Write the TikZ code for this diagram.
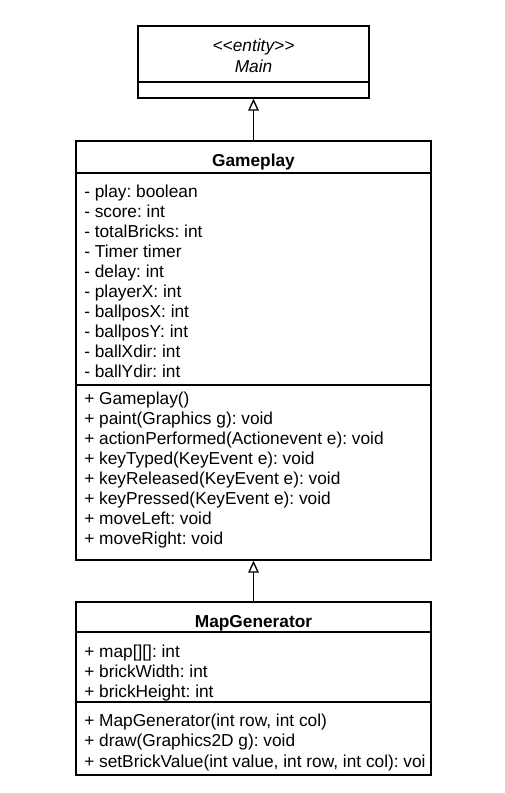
\documentclass[tikz,border=0pt]{standalone}
\usepackage{fontspec}
\setmainfont{Liberation Sans}
\usetikzlibrary{arrows.meta,fit}
\frenchspacing
\begin{document}
\begin{tikzpicture}[x=0.75pt,y=-0.75pt,
  umlbox/.style={draw=black,line width=1pt,inner sep=0pt,fit={#1}},
  sepline/.style={draw=black,line width=1pt},
  member/.style={anchor=base west,inner sep=0pt,font=\fontsize{12.97}{15}\selectfont},
  titletext/.style={anchor=base,inner sep=0pt,font=\fontsize{12.97}{15}\selectfont\bfseries},
  stereo/.style={anchor=base,inner sep=0pt,font=\fontsize{12.97}{15}\selectfont\itshape},
  inherit/.style={draw=black,line width=1pt,-{Triangle[open,width=8pt,length=9pt,line width=1pt]}}]
\useasboundingbox (0,0) rectangle (505,793);
% Main
\node[umlbox={(138,26) (369,98)}] (main) {};
\draw[sepline] (138,82) coordinate (m1) -- (369,82) coordinate (m2);
\node[stereo] (mainst) at (253.5,51.5) {<\kern0pt<entity>\kern0pt>};
\node[stereo] (mainname) at (253.5,72.5) {Main};
% Gameplay
\node[umlbox={(76,141) (431,560)}] (gameplay) {};
\draw[sepline] (76,173) coordinate (g1) -- (431,173) coordinate (g2);
\draw[sepline] (76,385) coordinate (g3) -- (431,385) coordinate (g4);
\node[titletext] (gtitle) at (253.5,166) {Gameplay};
\foreach \t [count=\i from 0] in {- play: boolean,- score: int,- totalBricks: int,- Timer timer,- delay: int,- playerX: int,- ballposX: int,- ballposY: int,- ballXdir: int,- ballYdir: int}
  \node[member] (ga\i) at (84,{197+20*\i}) {\t};
\foreach \t [count=\i from 0] in {+ Gameplay(),+ paint(Graphics g): void,+ actionPerformed(Actionevent e): void,+ keyTyped(KeyEvent e): void,+ keyReleased(KeyEvent e): void,+ keyPressed(KeyEvent e): void,+ moveLeft: void,+ moveRight: void}
  \node[member] (gm\i) at (84,{404+20*\i}) {\t};
% MapGenerator
\node[umlbox={(76,602) (431,775)}] (mapgen) {};
\draw[sepline] (76,632) coordinate (p1) -- (431,632) coordinate (p2);
\draw[sepline] (76,702) coordinate (p3) -- (431,702) coordinate (p4);
\node[titletext] (ptitle) at (253.5,627) {MapGenerator};
\foreach \t [count=\i from 0] in {+ map[][]: int,+ brickWidth: int,+ brickHeight: int}
  \node[member] (pa\i) at (84,{657+20*\i}) {\t};
\foreach \t [count=\i from 0] in {+ MapGenerator(int row{,} int col),+ draw(Graphics2D g): void,+ setBrickValue(int value{,} int row{,} int col): voi}
  \node[member] (pm\i) at (84,{726+20.5*\i}) {\t};
% inheritance
\draw[inherit] (gameplay.north -| main.south) -- (main.south);
\draw[inherit] (mapgen.north) -- (gameplay.south);
\end{tikzpicture}
\end{document}
